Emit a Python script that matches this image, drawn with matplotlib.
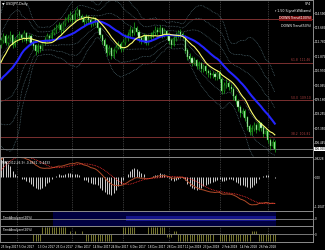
import numpy as np
import pandas as pd
import matplotlib
matplotlib.use("Agg")
import matplotlib.pyplot as plt
import matplotlib.transforms as mtransforms

# closes before the visible window (only used to warm up the indicators)
pre_close = [110.7, 110.3, 110.0, 109.2, 109.2, 109.6, 110.7, 110.0, 109.6, 109.2,
             108.9, 109.6, 109.0, 109.5, 109.4, 109.2, 109.7, 110.2, 110.0, 110.2,
             109.7, 108.7, 109.2, 108.4, 107.8, 109.4, 110.1, 110.5, 110.2, 110.8,
             111.5, 111.6, 112.3, 112.5, 112.6]

first_open = 112.60
close = [112.86, 113.12, 112.73, 112.99, 113.18, 112.61, 112.86, 113.05,
         113.18, 112.99, 113.31, 112.86, 113.12, 112.73, 112.54,
         112.23, 112.48, 112.35, 112.73, 112.86,
         113.12, 112.99, 113.31, 113.50,
         113.63, 113.82, 113.50, 113.88, 114.14,
         114.26, 114.45, 114.14, 114.52, 114.77, 114.39,
         114.26, 114.01, 114.33, 114.14, 113.88, 114.20, 114.01,
         113.63, 113.18, 112.86, 112.54, 112.10, 112.35,
         111.91, 112.23, 112.42, 112.61, 112.35, 112.73,
         112.99, 113.18, 113.50, 113.31, 113.63, 113.37,
         112.99, 112.86, 113.12, 112.73, 112.99, 113.18, 113.31,
         113.50, 113.37, 113.63, 113.24, 113.44, 113.12,
         112.86, 112.61, 112.99, 113.18,
         113.37, 113.24, 113.12,
         112.23, 111.84,
         111.72, 111.46, 111.59, 111.27, 111.40, 111.08,
         111.21, 110.95, 110.82, 110.70,
         110.76, 110.57, 110.82, 110.44,
         109.68, 110.06, 110.19, 109.93, 109.80,
         109.36, 109.04, 108.66, 108.28, 108.40, 108.02,
         107.45, 107.13, 107.32,
         107.51, 107.26, 107.64,
         107.38, 107.00, 107.13, 106.62,
         106.24, 106.49, 106.05]

high = [113.10, 113.35, 113.30, 113.20, 113.45, 113.30, 113.05, 113.25,
        113.45, 113.30, 113.50, 113.40, 113.30, 113.25, 112.90,
        112.65, 112.70, 112.65, 112.90, 113.10,
        113.35, 113.30, 113.55, 113.70,
        113.90, 114.05, 113.95, 114.10, 114.35,
        114.50, 114.70, 114.55, 114.75, 114.95, 114.85,
        114.55, 114.40, 114.55, 114.45, 114.25, 114.40, 114.35,
        114.10, 113.75, 113.30, 113.00, 112.65, 112.55,
        112.45, 112.40, 112.65, 112.85, 112.75, 112.95,
        113.25, 113.40, 113.75, 113.65, 114.00, 113.75,
        113.50, 113.15, 113.35, 113.25, 113.20, 113.40, 113.55,
        113.75, 113.70, 113.85, 113.70, 113.65, 113.55,
        113.25, 113.00, 113.15, 113.40,
        113.55, 113.60, 113.40,
        113.20, 112.40,
        112.05, 111.90, 111.80, 111.70, 111.60, 111.50,
        111.40, 111.35, 111.10, 111.00,
        110.95, 110.90, 111.00, 110.95,
        110.55, 110.25, 110.45, 110.30, 110.10,
        109.95, 109.50, 109.20, 108.80, 108.65, 108.55,
        108.10, 107.60, 107.55,
        107.75, 107.70, 107.85,
        107.75, 107.50, 107.35, 107.25,
        106.75, 106.70, 106.60]

low = [112.40, 112.70, 112.55, 112.50, 112.85, 112.40, 112.45, 112.70,
       112.90, 112.80, 112.85, 112.70, 112.75, 112.55, 112.35,
       111.95, 112.10, 112.15, 112.25, 112.60,
       112.75, 112.80, 112.90, 113.20,
       113.35, 113.50, 113.30, 113.40, 113.75,
       114.00, 114.10, 113.95, 114.00, 114.35, 114.20,
       114.05, 113.80, 113.90, 113.95, 113.70, 113.75, 113.85,
       113.45, 113.00, 112.65, 112.35, 111.90, 111.95,
       111.70, 111.75, 112.05, 112.30, 112.15, 112.20,
       112.60, 112.85, 113.05, 113.15, 113.20, 113.20,
       112.80, 112.65, 112.70, 112.55, 112.60, 112.85, 113.05,
       113.20, 113.20, 113.25, 113.05, 113.10, 112.95,
       112.65, 112.40, 112.50, 112.85,
       113.05, 113.05, 112.95,
       112.05, 111.65,
       111.50, 111.25, 111.30, 111.05, 111.10, 110.90,
       110.90, 110.75, 110.60, 110.50,
       110.50, 110.35, 110.40, 110.25,
       109.50, 109.55, 109.90, 109.75, 109.60,
       109.15, 108.85, 108.45, 108.05, 108.10, 107.80,
       107.25, 106.90, 106.95,
       107.20, 107.05, 107.15,
       107.15, 106.80, 106.85, 106.40,
       105.95, 106.10, 105.85]

date_labels = ["25 Sep 2017", "5 Oct 2017", "13 Oct 2017", "25 Oct 2017", "2 Nov 2017",
               "14 Nov 2017", "24 Nov 2017", "6 Dec 2017", "18 Dec 2017", "28 Dec 2017",
               "11 Jan 2018", "23 Jan 2018", "2 Feb 2018", "14 Feb 2018", "26 Feb 2018"]

price_ticks = [114.590, 113.685, 112.780, 111.875, 110.970, 110.065, 109.160,
               108.255, 107.350, 106.445]

fib_levels = [76.4, 61.8, 50.0, 38.2]
fib_prices = [114.20, 111.46, 109.10, 106.81]

# TrendAnalyzer panels
trend_blue = [0] * 23 + [1] * 97
trend_blue_core = [0] * 55 + [1] * 65
trend_olive = ([0] * 14 + [-1] * 4 + [1] * 11 + [0, 0.5, 0, 0.5, 0, 0, 0.5, 0]
               + [-1] * 12 + [0] * 4 + [1] * 6 + [0] * 5 + [1] * 8 + [-0.5] * 3
               + [0.5] * 2 + [-1] * 16 + [0] * 2 + [-1] * 14 + [0.5] * 3 + [-1] * 8)

n = len(close)
opens = [first_open] + close[:-1]
idx = np.arange(n)

full = pd.Series(pre_close + close)
ma_fast = full.rolling(10).mean().values[-n:]
ma_slow = full.rolling(20).mean().values[-n:]
sd = full.rolling(20).std(ddof=0).values[-n:]
macd_main = (full.ewm(span=12, adjust=False).mean() - full.ewm(span=26, adjust=False).mean())
macd_sig = macd_main.rolling(9).mean()
macd_hist = (macd_main - macd_sig).values[-n:]
macd_main = macd_main.values[-n:]
macd_sig = macd_sig.values[-n:]

BG = "black"
FG = "white"
FRAME = "#8c8c8c"
GREEN = "#1fb01f"
FS = 2.0

fig = plt.figure(figsize=(3.25, 2.5), dpi=100, facecolor=BG)
W = 313 / 325
xmin, xmax = -0.45, 135.6

def panel(top_px, bot_px):
    ax = fig.add_axes([0, 1 - bot_px / 250, W, (bot_px - top_px) / 250])
    ax.set_facecolor(BG)
    ax.set_xlim(xmin, xmax)
    for s in ax.spines.values():
        s.set_color(FRAME)
        s.set_linewidth(0.7)
    ax.tick_params(axis="x", bottom=False, labelbottom=False)
    ax.yaxis.tick_right()
    ax.tick_params(axis="y", colors=FG, labelsize=FS, length=0.8, width=0.4, pad=0.4)
    for g in [7, 31, 53, 73, 95, 116]:
        ax.axvline(g, color="#6a6a6a", lw=0.5, ls=(0, (1, 1.5)), zorder=0)
    return ax

# ---- main price panel
ax = panel(0, 157)
ax.set_ylim(105.54, 115.41)

for k in (1, 2, 3):
    ax.plot(idx, ma_slow + k * sd, color="#5c7c86", lw=0.5, ls=(0, (1, 1.3)))
    ax.plot(idx, ma_slow - k * sd, color="#5c7c86", lw=0.5, ls=(0, (1, 1.3)))

for lvl, p in zip(fib_levels, fib_prices):
    ax.axhline(p, color="#7a3030", lw=0.7)
    if lvl != 76.4:
        ax.text(134.5, p + 0.04, f"{lvl:.1f}  {p:.2f}", color="#b04040",
                fontsize=2.2, ha="right", va="bottom")

ax.axhline(close[-1], color="#9a9a9a", lw=0.5)

ax.vlines(idx, low, high, color=GREEN, lw=0.5, zorder=3)
o = np.array(opens)
c = np.array(close)
bull = c >= o
ax.bar(idx, np.abs(c - o) + 0.02, bottom=np.minimum(o, c), width=0.5,
       color=np.where(bull, "black", "#e8ffe8"), edgecolor=GREEN, lw=0.3, zorder=4)

ax.plot(idx, ma_slow, color="#2424ff", lw=1.5, zorder=5)
ax.plot(idx, ma_fast, color="#ffff70", lw=0.8, zorder=6)

ax.set_yticks(price_ticks)
ax.set_yticklabels([f"{v:.3f}" for v in price_ticks])
ax.text(0.006, 0.988, "\u25bc USDJPY,Daily", transform=ax.transAxes, color=FG,
        fontsize=2.4, va="top", ha="left")
info = ["SP4", "r 1.50 Signal(Williams)", "DOWN Trend(100%)", "DOWN Trend(50%)"]
for j, t in enumerate(info):
    kw = {}
    if j == 2:
        kw["bbox"] = dict(facecolor="#7a1010", edgecolor="none", pad=0.3)
    ax.text(0.995, 0.985 - j * 0.045, t, transform=ax.transAxes, color=FG,
            fontsize=2.3, va="top", ha="right", **kw)
tr = mtransforms.blended_transform_factory(ax.transAxes, ax.transData)
ax.text(1.004, close[-1], f"{close[-1]:.3f}", transform=tr, color="black",
        fontsize=FS, va="center", ha="left",
        bbox=dict(facecolor="white", edgecolor="none", pad=0.2), zorder=10)

# ---- MACD panel
ax2 = panel(157, 211)
ax2.set_ylim(-1.37, 0.83)
ax2.vlines(idx, 0, macd_hist * 2.0, color="#f0f0f0", lw=0.6)
ax2.plot(idx, macd_main, color="#b04a28", lw=0.7)
ax2.plot(idx, macd_sig, color="#ff3030", lw=0.6, ls=(0, (1, 1)))
ax2.set_yticks([0.75, 0.0, -1.2047])
ax2.set_yticklabels(["0.8228", "0.00", "-1.2047"])
ax2.text(0.006, 0.93, "MACD(12,26,9) -0.4631 -0.4433", transform=ax2.transAxes,
         color=FG, fontsize=2.2, va="top")

# ---- TrendAnalyzer panels
ax3 = panel(211, 226)
ax3.set_ylim(-1.05, 1.05)
tb = np.array(trend_blue, dtype=float)
tc = np.array(trend_blue_core, dtype=float)
ax3.bar(idx, 2 * tb, bottom=-1, width=1.0, color="#000040", lw=0)
ax3.bar(idx, 0.8 * tc, bottom=-0.4, width=1.0, color="#14148a", lw=0)
ax3.axhline(0, color=FRAME, lw=0.6)
ax3.set_yticks([0])
ax3.set_yticklabels(["0"])
ax3.text(0.006, 0.55, "TrendAnalyzer(20%)", transform=ax3.transAxes, color=FG,
         fontsize=2.2, va="center")

ax4 = panel(226, 242)
ax4.set_ylim(-1.2, 1.2)
ax4.vlines(idx, 0, trend_olive, color="#8c8c3a", lw=0.6)
ax4.axhline(0, color=FRAME, lw=0.6)
ax4.set_yticks([0])
ax4.set_yticklabels(["0"])
ax4.text(0.006, 0.78, "TrendAnalyzer(20%)", transform=ax4.transAxes, color=FG,
         fontsize=2.2, va="center")

for j, lab in enumerate(date_labels):
    ax4.text(j * 8, -1.6, lab, color=FG, fontsize=2.0, ha="left", va="top",
             clip_on=False)

fig.savefig("out.png", dpi=100, facecolor=BG)
